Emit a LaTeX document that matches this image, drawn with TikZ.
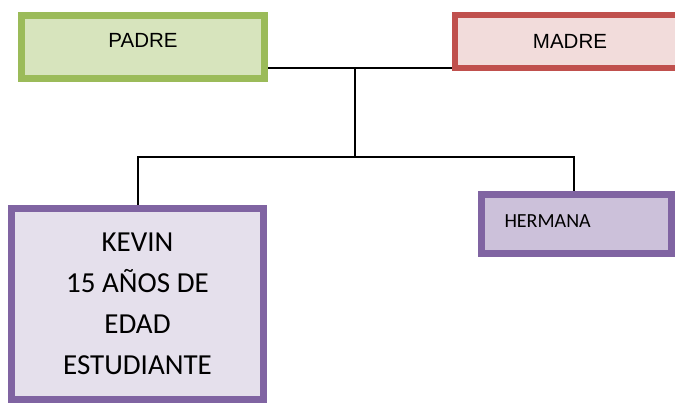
\documentclass[tikz,border=0pt]{standalone}
\usepackage{fontspec}
\usepackage{tikz}
\setmainfont{Carlito}
\newfontfamily\arialfont{Liberation Sans}
\definecolor{padreline}{HTML}{9BBB59}
\definecolor{padrefill}{HTML}{D7E4BD}
\definecolor{madreline}{HTML}{C0504D}
\definecolor{madrefill}{HTML}{F2DCDB}
\definecolor{hijoline}{HTML}{8064A2}
\definecolor{kevinfill}{HTML}{E5E0EC}
\definecolor{hermanafill}{HTML}{CCC1DA}

\begin{document}
\begin{tikzpicture}[x=1pt,y=-1pt,line width=2pt]
  \tikzstyle{family box}=[draw,line width=7pt,inner sep=0pt,text=black]
  \tikzstyle{parent}=[family box,font=\arialfont\fontsize{20.5}{24}\selectfont]
  \useasboundingbox (0,0) rectangle (675,403);

  \node[parent,draw=padreline,fill=padrefill,minimum width=243pt,
        minimum height=63pt,text height=16pt,text depth=13.5pt]
        (padre) at (143,46.75) {PADRE};
  \node[parent,draw=madreline,fill=madrefill,line width=6.5pt,minimum width=230pt,
        minimum height=53pt,text height=16pt,text depth=2.4pt]
        (madre) at (570,41.4) {MADRE};
  \node[family box,draw=hijoline,fill=kevinfill,minimum width=252pt,
        minimum height=191.5pt,align=center,
        font=\fontsize{29}{41}\selectfont]
        (kevin) at (137.5,304) {KEVIN\\15 AÑOS DE\\EDAD\\ESTUDIANTE};
  \node[family box,draw=hijoline,fill=hermanafill,minimum width=190pt,
        minimum height=59pt,text width=144pt,inner xsep=23pt,align=left,
        text height=14pt,text depth=6pt,font=\fontsize{20}{24}\selectfont]
        (hermana) at (576.5,224) {HERMANA};

  \coordinate (union) at (355,68);
  \coordinate (split) at (355,157);
  \draw (padre.east |- union) -- (madre.west |- union);
  \draw (union) -- (split);
  \draw (kevin.north) |- (split) -| ([xshift=-2.5pt]hermana.north);
\end{tikzpicture}
\end{document}
